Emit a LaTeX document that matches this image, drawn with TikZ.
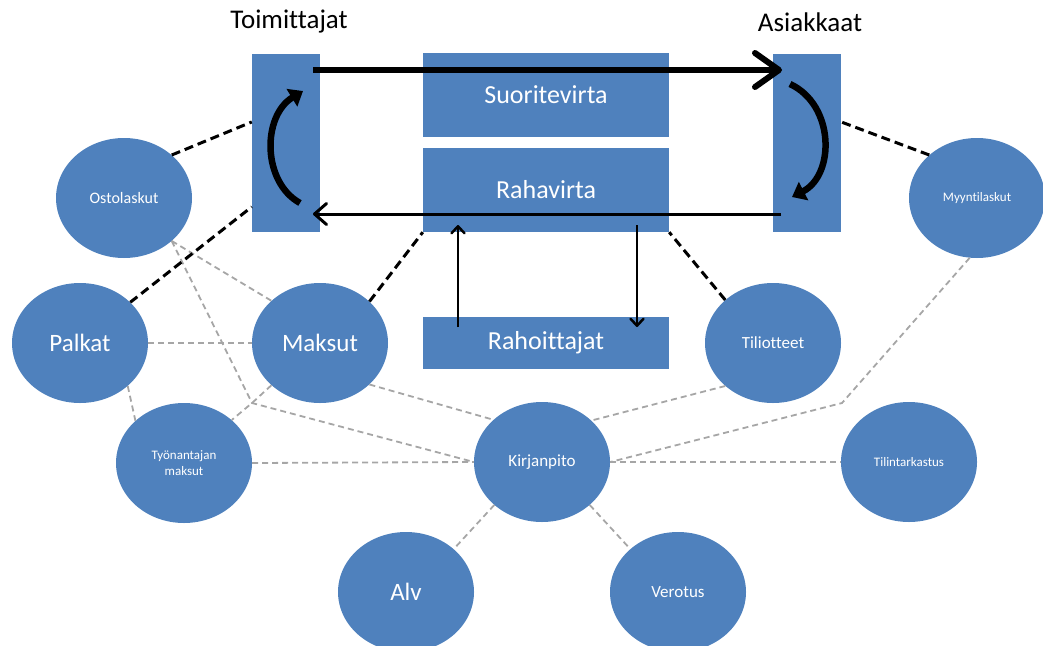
\documentclass[tikz,border=0pt]{standalone}
\usepackage{fontspec}
\setmainfont{Carlito}[Ligatures=NoCommon]
\usetikzlibrary{shapes.geometric,arrows.meta}
\definecolor{flowblue}{HTML}{4F81BD}
\definecolor{linkgray}{HTML}{A6A6A6}
\tikzset{
	party box/.style={rectangle, fill=flowblue, inner sep=0pt, minimum width=68pt, minimum height=178pt},
	flow box/.style={rectangle, fill=flowblue, text=white, inner sep=0pt, minimum width=246pt, font=\fontsize{26}{30}\selectfont},
	big node/.style={ellipse, fill=flowblue, text=white, inner sep=0pt, minimum width=136pt, minimum height=120pt, font=\fontsize{25}{30}\selectfont},
	mid node/.style={big node, font=\fontsize{17}{20}\selectfont},
	small node/.style={big node, align=center, font=\fontsize{13}{16}\selectfont},
	title node/.style={font=\fontsize{27}{30}\selectfont},
	black link/.style={black, line width=3pt, dash pattern=on 9pt off 5pt},
	gray link/.style={linkgray, line width=1.8pt, dash pattern=on 6pt off 4pt},
	main arrow/.style={line width=6pt, -{Straight Barb[length=24pt, width=34pt, round]}},
	back arrow/.style={line width=3pt, -{Straight Barb[length=12pt, width=21pt, round]}},
	cash arrow/.style={line width=2.5pt, -{Straight Barb[length=7pt, width=13pt, round]}},
	turn arrow/.style={line width=6.5pt, -{Triangle[length=13pt, width=20pt]}},
}
\begin{document}
\begin{tikzpicture}[x=1pt, y=-1pt]
	\useasboundingbox (0,0) rectangle (1043,645);
	\clip (0,0) rectangle (1043,645);

	\node(toimittajat)[party box] at (286,142.5) {};
	\node(asiakkaat)[party box] at (807,142.5) {};
	\node(toimittajatlabel)[title node] at (289,22) {Toimittajat};
	\node(asiakkaatlabel)[title node] at (810,22) {Asiakkaat};

	\node(suoritevirta)[flow box, minimum height=84pt] at (546,95) {Suoritevirta};
	\node(rahavirta)[flow box, minimum height=84pt] at (546,190) {Rahavirta};
	\node(rahoittajat)[flow box, minimum height=52pt] at (546,343) {Rahoittajat};

	\node(ostolaskut)[mid node, font=\fontsize{16}{20}\selectfont] at (124,198) {Ostolaskut};
	\node(myyntilaskut)[small node] at (977,198) {Myyntilaskut};
	\node(palkat)[big node] at (80,343) {Palkat};
	\node(maksut)[big node] at (320,343) {Maksut};
	\node(tiliotteet)[mid node] at (773,343) {Tiliotteet};
	\node(tyonantajan)[small node] at (184,463) {Työnantajan\\maksut};
	\node(kirjanpito)[mid node] at (542,462) {Kirjanpito};
	\node(tilintarkastus)[small node] at (909,462) {Tilintarkastus};
	\node(alv)[big node] at (406,592) {Alv};
	\node(verotus)[mid node] at (678,592) {Verotus};

	\coordinate(crossing) at (252,403);
	\coordinate(bend) at (842,403);

	\draw[gray link] (ostolaskut.-42) -- (maksut.139.5);
	\draw[gray link] (ostolaskut.-42) -- (crossing) -- (kirjanpito.west);
	\draw[gray link] (maksut.221) -- (crossing) -- (tyonantajan.42);
	\draw[gray link] (palkat.east) -- (maksut.west);
	\draw[gray link] (palkat.-42) -- (tyonantajan.139);
	\draw[gray link] (maksut.-40) -- (kirjanpito.139.4);
	\draw[gray link] (tyonantajan.east) -- (kirjanpito.west);
	\draw[gray link] (tiliotteet.222) -- (kirjanpito.40);
	\draw[gray link] (myyntilaskut.263) -- (bend) -- (kirjanpito.east);
	\draw[gray link] (kirjanpito.east) -- (tilintarkastus.west);
	\draw[gray link] (kirjanpito.222.5) -- (alv.42.5);
	\draw[gray link] (kirjanpito.-42) -- (verotus.138);

	\draw[black link] (ostolaskut.42) -- (toimittajat.149);
	\draw[black link] (palkat.39) -- (toimittajat.242);
	\draw[black link] (maksut.40.5) -- (rahavirta.south west);
	\draw[black link] (tiliotteet.138) -- (rahavirta.south east);
	\draw[black link] (myyntilaskut.138) -- (asiakkaat.31);

	\coordinate(goods start) at (313,70);
	\coordinate(goods end) at (782,70);
	\coordinate(money start) at (781,214);
	\coordinate(money end) at (313,214);
	\coordinate(loan start) at (458,327);
	\coordinate(loan end) at (458,225);
	\coordinate(repay start) at (637,225);
	\coordinate(repay end) at (637,327);
	\coordinate(buy start) at (300,203);
	\coordinate(buy end) at (303,91);
	\coordinate(sell start) at (790,84);
	\coordinate(sell end) at (792,197);

	\draw[main arrow] (goods start) -- (goods end);
	\draw[back arrow] (money start) -- (money end);
	\draw[cash arrow] (loan start) -- (loan end);
	\draw[cash arrow] (repay start) -- (repay end);
	\draw[turn arrow] (buy start) .. controls (262,182) and (262,116) .. (buy end);
	\draw[turn arrow] (sell start) .. controls (835,105) and (835,175) .. (sell end);

\end{tikzpicture}
\end{document}
